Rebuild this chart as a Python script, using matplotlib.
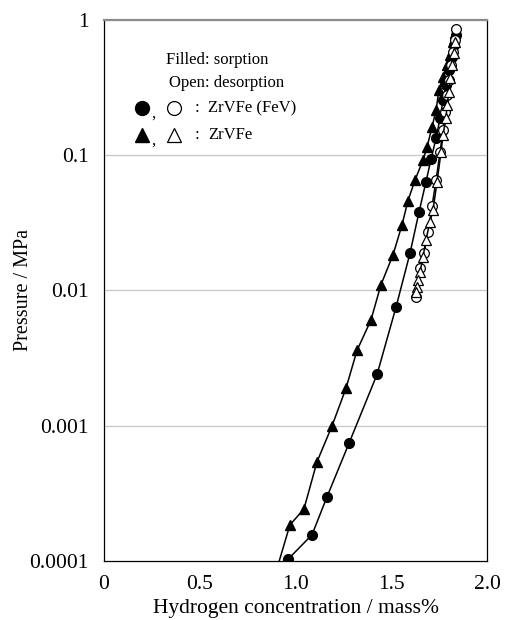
import matplotlib.pyplot as plt
from matplotlib.ticker import FixedLocator, FixedFormatter

plt.rcParams["font.family"] = ["Liberation Serif", "DejaVu Serif"]

# ZrVFe (FeV) - sorption (filled circles)
fev_sorp_x = [0.961, 1.086, 1.164, 1.279, 1.426, 1.525, 1.598, 1.645, 1.681, 1.708,
              1.734, 1.755, 1.770, 1.786, 1.802, 1.817, 1.828, 1.838]
fev_sorp_p = [1.03e-4, 1.56e-4, 2.97e-4, 7.4e-4, 2.4e-3, 7.55e-3, 0.0189, 0.038, 0.0634, 0.0938,
              0.134, 0.188, 0.256, 0.331, 0.427, 0.532, 0.653, 0.774]

# ZrVFe (FeV) - desorption (open circles)
fev_des_x = [1.838, 1.833, 1.822, 1.812, 1.802, 1.791, 1.781, 1.770, 1.755, 1.734,
             1.713, 1.692, 1.671, 1.650, 1.629]
fev_des_p = [0.858, 0.711, 0.580, 0.465, 0.360, 0.279, 0.209, 0.154, 0.106, 0.0656,
             0.0421, 0.0271, 0.0189, 0.0147, 0.00895]

# ZrVFe - sorption (filled triangles)
zr_sorp_x = [0.898, 0.971, 1.044, 1.112, 1.191, 1.264, 1.321, 1.394, 1.446, 1.509,
             1.556, 1.587, 1.624, 1.666, 1.687, 1.713, 1.734, 1.749, 1.770, 1.791,
             1.807, 1.822, 1.833]
zr_sorp_p = [8.3e-5, 1.85e-4, 2.42e-4, 5.4e-4, 1.0e-3, 1.9e-3, 3.6e-3, 6.05e-3, 0.011, 0.0183,
             0.0305, 0.046, 0.0655, 0.0922, 0.115, 0.162, 0.216, 0.304, 0.379, 0.465,
             0.551, 0.688, 0.801]

# ZrVFe - desorption (open triangles)
zr_des_x = [1.833, 1.828, 1.817, 1.807, 1.802, 1.791, 1.786, 1.770, 1.760, 1.739,
            1.718, 1.702, 1.681, 1.666, 1.650, 1.640, 1.634, 1.629]
zr_des_p = [0.688, 0.570, 0.465, 0.373, 0.294, 0.235, 0.188, 0.141, 0.106, 0.0634,
            0.0394, 0.0321, 0.0236, 0.0177, 0.0137, 0.0120, 0.0106, 0.00975]

y_ticks = [1e-4, 1e-3, 1e-2, 1e-1, 1]
y_labels = ["0.0001", "0.001", "0.01", "0.1", "1"]
x_ticks = [0, 0.5, 1.0, 1.5, 2.0]
x_labels = ["0", "0.5", "1.0", "1.5", "2.0"]

fig = plt.figure(figsize=(5.06, 6.2), dpi=100)
ax = fig.add_axes([0.2055, 0.0952, 0.757, 0.8726])

ax.set_yscale("log")
ax.set_xlim(0, 2.0)
ax.set_ylim(1e-4, 1)

for y in y_ticks[1:]:
    ax.axhline(y, color="#c8c8c8", lw=0.9, zorder=0)

ms = 7
ax.plot(fev_sorp_x, fev_sorp_p, "-o", color="black", lw=1.1, ms=ms, mfc="black", zorder=3)
ax.plot(zr_sorp_x, zr_sorp_p, "-^", color="black", lw=1.1, ms=ms + 0.5, mfc="black", zorder=3)
ax.plot(fev_des_x, fev_des_p, "-o", color="black", lw=1.1, ms=ms, mfc="white", mew=0.9, zorder=4)
ax.plot(zr_des_x, zr_des_p, "-^", color="black", lw=1.1, ms=ms + 0.5, mfc="white", mew=0.9, zorder=4)

ax.yaxis.set_major_locator(FixedLocator(y_ticks))
ax.yaxis.set_major_formatter(FixedFormatter(y_labels))
ax.yaxis.set_minor_locator(FixedLocator([]))
ax.set_xticks(x_ticks)
ax.set_xticklabels(x_labels)
ax.tick_params(axis="both", length=0, labelsize=15.5)
ax.tick_params(axis="y", pad=11)
ax.tick_params(axis="x", pad=10)

ax.set_xlabel("Hydrogen concentration / mass%", fontsize=15.5, labelpad=4)
ax.set_ylabel("Pressure / MPa", fontsize=14.5)
ax.yaxis.set_label_coords(-0.185, 0.5)

for side in ["left", "bottom", "right"]:
    ax.spines[side].set_color("black")
    ax.spines[side].set_linewidth(0.9)
ax.spines["top"].set_color("#8c8c8c")
ax.spines["top"].set_linewidth(1.6)

# hand-made key
tr = ax.transAxes
ax.text(0.295, 0.926, "Filled: sorption", transform=tr, ha="center", va="center", fontsize=12)
ax.text(0.319, 0.884, "Open: desorption", transform=tr, ha="center", va="center", fontsize=12)
for yk, mk, name in [(0.837, "o", "ZrVFe (FeV)"), (0.787, "^", "ZrVFe")]:
    ax.plot([0.099], [yk], marker=mk, ms=10, color="black", mfc="black", transform=tr, clip_on=False)
    ax.text(0.128, yk - 0.01, ",", transform=tr, ha="center", va="center", fontsize=12)
    ax.plot([0.183], [yk], marker=mk, ms=10, color="black", mfc="white", mew=0.9, transform=tr, clip_on=False)
    ax.text(0.243, yk, ":", transform=tr, ha="center", va="center", fontsize=12)
    ax.text(0.272, yk, name, transform=tr, ha="left", va="center", fontsize=12)

fig.savefig("out.png", dpi=100)
